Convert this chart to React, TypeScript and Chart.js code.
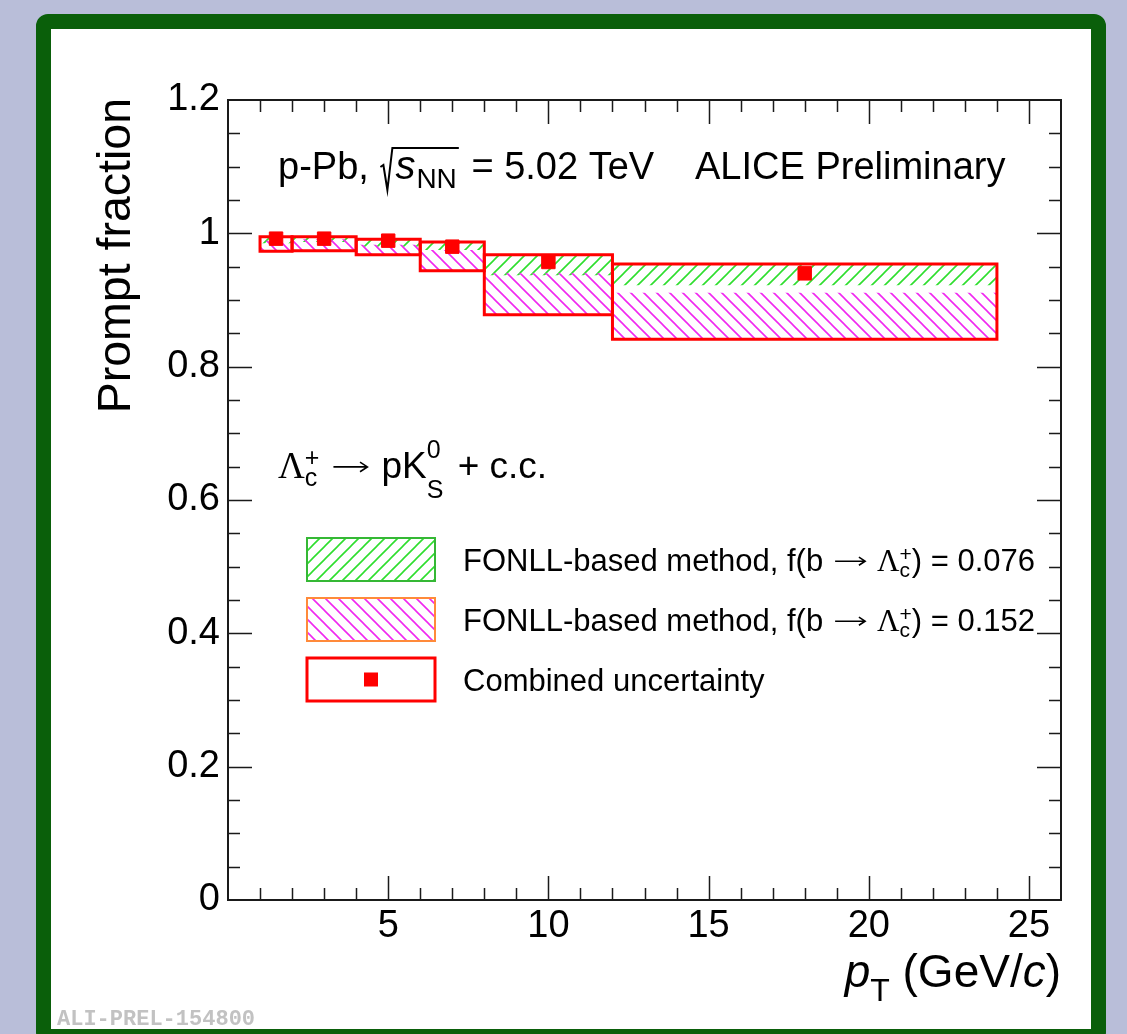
import React, { useEffect, useRef } from 'react';
import { Chart, registerables } from 'chart.js';
Chart.register(...registerables);

// ---------------- data ----------------
const binLow = [1, 2, 4, 6, 8, 12];
const binHigh = [2, 4, 6, 8, 12, 24];
const ptCenter = [1.5, 3, 5, 7, 10, 18];
const promptFraction = [0.992, 0.992, 0.989, 0.98, 0.957, 0.94];
const combinedLow = [0.973, 0.974, 0.968, 0.944, 0.878, 0.841];
const combinedHigh = [0.995, 0.995, 0.991, 0.987, 0.968, 0.954];
const fonll076Low = [0.985, 0.987, 0.98, 0.975, 0.937, 0.922];
const fonll076High = [0.995, 0.995, 0.991, 0.987, 0.968, 0.954];
const fonll152Low = [0.973, 0.974, 0.968, 0.944, 0.878, 0.841];
const fonll152High = [0.989, 0.991, 0.983, 0.975, 0.94, 0.911];

const xTickValues = [5, 10, 15, 20, 25];
const xTickLabels = ['5', '10', '15', '20', '25'];
const yTickValues = [0, 0.2, 0.4, 0.6, 0.8, 1.0, 1.2];
const yTickLabels = ['0', '0.2', '0.4', '0.6', '0.8', '1', '1.2'];
const X_MIN = 0;
const X_MAX = 26;
const Y_MIN = 0;
const Y_MAX = 1.2;
const X_MINOR_STEP = 1;
const Y_MINOR_STEP = 0.05;

const legendFractions = ['0.076', '0.152'];
const legendCombined = 'Combined uncertainty';
const systemLabel = 'p-Pb, ';
const energyLabel = ' = 5.02 TeV';
const experimentLabel = 'ALICE Preliminary';
const watermark = 'ALI-PREL-154800';

// ---------------- styles ----------------
const SANS = '"Liberation Sans", Arial, Helvetica, sans-serif';
const SERIF = '"Liberation Serif", "Times New Roman", serif';
const MONO = '"Liberation Mono", "Courier New", monospace';
const RED = '#ff0000';
const GREEN_HATCH = '#2ede2e';
const MAGENTA_HATCH = '#f028f0';

type Seg = {
  t?: string;
  size: number;
  dy?: number;
  italic?: boolean;
  serif?: boolean;
  gap?: number;
  arrow?: [number, number, number];
  sup?: string;
  sub?: string;
  supDy?: number;
  subDy?: number;
};

function fontOf(size: number, italic?: boolean, serif?: boolean) {
  return `${italic ? 'italic ' : ''}${size}px ${serif ? SERIF : SANS}`;
}

function segWidth(ctx: CanvasRenderingContext2D, s: Seg) {
  if (s.gap !== undefined) return s.gap;
  if (s.arrow) return s.arrow[0] + s.arrow[1] + s.arrow[2];
  if (s.sup !== undefined || s.sub !== undefined) {
    ctx.font = fontOf(s.size);
    return Math.max(ctx.measureText(s.sup || '').width, ctx.measureText(s.sub || '').width);
  }
  ctx.font = fontOf(s.size, s.italic, s.serif);
  return ctx.measureText(s.t || '').width;
}

function drawRich(ctx: CanvasRenderingContext2D, x: number, y: number, segs: Seg[]) {
  let cx = x;
  for (const s of segs) {
    const w = segWidth(ctx, s);
    if (s.gap !== undefined) {
      // spacing only
    } else if (s.arrow) {
      const [gl, len] = s.arrow;
      const ay = y - s.size * 0.3;
      const x0 = cx + gl;
      const x1 = x0 + len;
      const h = s.size * 0.2;
      ctx.save();
      ctx.strokeStyle = '#000';
      ctx.lineWidth = 1.6;
      ctx.beginPath();
      ctx.moveTo(x0, ay); ctx.lineTo(x1, ay);
      ctx.moveTo(x1 - h, ay - h * 0.65); ctx.lineTo(x1, ay); ctx.lineTo(x1 - h, ay + h * 0.65);
      ctx.stroke();
      ctx.restore();
    } else if (s.sup !== undefined || s.sub !== undefined) {
      ctx.font = fontOf(s.size);
      if (s.sup) ctx.fillText(s.sup, cx, y + (s.supDy ?? -s.size * 0.6));
      if (s.sub) ctx.fillText(s.sub, cx, y + (s.subDy ?? s.size * 0.35));
    } else {
      ctx.font = fontOf(s.size, s.italic, s.serif);
      ctx.fillText(s.t || '', cx, y + (s.dy || 0));
    }
    cx += w;
  }
  return cx - x;
}

function richWidth(ctx: CanvasRenderingContext2D, segs: Seg[]) {
  return segs.reduce((a, s) => a + segWidth(ctx, s), 0);
}

function makeHatch(color: string, dir: '/' | '\\', s: number, lw: number) {
  const c = document.createElement('canvas');
  c.width = s;
  c.height = s;
  const g = c.getContext('2d')!;
  g.strokeStyle = color;
  g.lineWidth = lw;
  g.beginPath();
  if (dir === '/') {
    g.moveTo(0, s); g.lineTo(s, 0);
    g.moveTo(-s / 2, s / 2); g.lineTo(s / 2, -s / 2);
    g.moveTo(s / 2, s * 1.5); g.lineTo(s * 1.5, s / 2);
  } else {
    g.moveTo(0, 0); g.lineTo(s, s);
    g.moveTo(s / 2, -s / 2); g.lineTo(s * 1.5, s / 2);
    g.moveTo(-s / 2, s / 2); g.lineTo(s / 2, s * 1.5);
  }
  g.stroke();
  return g.createPattern(c, 'repeat')!;
}

function boxPoints(i: number, lo: number, hi: number) {
  return [
    { x: binLow[i], y: lo },
    { x: binLow[i], y: hi },
    { x: binHigh[i], y: hi },
    { x: binHigh[i], y: lo },
    { x: binLow[i], y: lo },
  ];
}

function lambdaC(size: number, scriptSize: number): Seg[] {
  return [
    { t: 'Λ', size, serif: true },
    { sup: '+', sub: 'c', size: scriptSize, supDy: -size * 0.32, subDy: size * 0.22 },
  ];
}

export default function App() {
  const ref = useRef<HTMLCanvasElement>(null);

  useEffect(() => {
    const canvas = ref.current!;
    const greenHatch = makeHatch(GREEN_HATCH, '/', 13, 1.6);
    const magentaHatch = makeHatch(MAGENTA_HATCH, '\\', 13, 1.6);

    const datasets: any[] = [];
    datasets.push({
      label: legendCombined,
      data: ptCenter.map((x, i) => ({ x, y: promptFraction[i] })),
      showLine: false,
      pointStyle: 'rect',
      pointRadius: 9.5,
      pointBackgroundColor: RED,
      pointBorderColor: RED,
      pointBorderWidth: 1,
      order: 0,
    });
    binLow.forEach((_, i) => {
      datasets.push({
        data: boxPoints(i, combinedLow[i], combinedHigh[i]),
        borderColor: RED,
        borderWidth: 3,
        borderCapStyle: 'square',
        borderJoinStyle: 'miter',
        fill: false,
        pointRadius: 0,
        order: 1,
      });
      datasets.push({
        data: boxPoints(i, fonll152Low[i], fonll152High[i]),
        borderColor: 'rgba(0,0,0,0)',
        borderWidth: 1,
        backgroundColor: magentaHatch,
        fill: 'shape',
        pointRadius: 0,
        order: 2,
      });
      datasets.push({
        data: boxPoints(i, fonll076Low[i], fonll076High[i]),
        borderColor: 'rgba(0,0,0,0)',
        borderWidth: 1,
        backgroundColor: greenHatch,
        fill: 'shape',
        pointRadius: 0,
        order: 3,
      });
    });

    const decor = {
      id: 'decor',
      afterDraw(chart: any) {
        const ctx: CanvasRenderingContext2D = chart.ctx;
        const { left, right, top, bottom } = chart.chartArea;
        const xs = chart.scales.x;
        const ys = chart.scales.y;
        ctx.save();
        // ticks
        ctx.strokeStyle = '#1a1a1a';
        ctx.lineWidth = 1.5;
        ctx.beginPath();
        for (let v = X_MIN + X_MINOR_STEP; v < X_MAX; v += X_MINOR_STEP) {
          const major = xTickValues.some((t) => Math.abs(t - v) < 1e-6);
          const len = major ? 24 : 12;
          const px = Math.round(xs.getPixelForValue(v)) + 0.5;
          ctx.moveTo(px, bottom); ctx.lineTo(px, bottom - len);
          ctx.moveTo(px, top); ctx.lineTo(px, top + len);
        }
        for (let k = 1; Y_MIN + k * Y_MINOR_STEP < Y_MAX - 1e-6; k++) {
          const v = Y_MIN + k * Y_MINOR_STEP;
          const major = yTickValues.some((t) => Math.abs(t - v) < 1e-6);
          const len = major ? 24 : 12;
          const py = Math.round(ys.getPixelForValue(v)) + 0.5;
          ctx.moveTo(left, py); ctx.lineTo(left + len, py);
          ctx.moveTo(right, py); ctx.lineTo(right - len, py);
        }
        ctx.stroke();
        // frame
        ctx.lineWidth = 2;
        ctx.strokeRect(left, top, right - left, bottom - top);

        ctx.fillStyle = '#000';
        ctx.textAlign = 'left';
        ctx.textBaseline = 'alphabetic';

        // title line
        const ty = 179;
        let tx = 278;
        tx += drawRich(ctx, tx, ty, [{ t: systemLabel, size: 38 }]);
        // sqrt sign
        const sW = richWidth(ctx, [{ t: 's', size: 40, italic: true }, { gap: 1 }, { t: 'NN', size: 28 }]);
        ctx.strokeStyle = '#000';
        ctx.lineWidth = 2;
        ctx.beginPath();
        ctx.moveTo(tx + 1, ty - 12);
        ctx.lineTo(tx + 4, ty - 14);
        ctx.lineTo(tx + 8, ty + 11);
        ctx.lineTo(tx + 13, ty - 31);
        ctx.lineTo(tx + 18 + sW, ty - 31);
        ctx.stroke();
        tx += 16;
        tx += drawRich(ctx, tx, ty, [
          { t: 's', size: 40, italic: true },
          { gap: 1 },
          { t: 'NN', size: 28, dy: 9 },
          { gap: 4 },
          { t: energyLabel, size: 38 },
        ]);
        drawRich(ctx, 695, ty, [{ t: experimentLabel, size: 38 }]);

        // decay channel
        drawRich(ctx, 278, 478, [
          ...lambdaC(37, 25),
          { arrow: [14, 34, 14], size: 37 },
          { t: 'pK', size: 37 },
          { sup: '0', sub: 'S', size: 25, supDy: -20, subDy: 20 },
          { gap: 4 },
          { t: ' + c.c.', size: 37 },
        ]);

        // legend
        const lx0 = 307, lx1 = 435, lh = 43;
        const rows = [538, 598, 658];
        ctx.fillStyle = greenHatch;
        ctx.fillRect(lx0, rows[0], lx1 - lx0, lh);
        ctx.strokeStyle = '#35b835';
        ctx.lineWidth = 2;
        ctx.strokeRect(lx0, rows[0], lx1 - lx0, lh);
        ctx.fillStyle = magentaHatch;
        ctx.fillRect(lx0, rows[1], lx1 - lx0, lh);
        ctx.strokeStyle = '#ff8a3a';
        ctx.strokeRect(lx0, rows[1], lx1 - lx0, lh);
        ctx.fillStyle = '#fff';
        ctx.fillRect(lx0, rows[2], lx1 - lx0, lh);
        ctx.strokeStyle = RED;
        ctx.lineWidth = 3;
        ctx.strokeRect(lx0, rows[2], lx1 - lx0, lh);
        ctx.fillStyle = RED;
        ctx.fillRect((lx0 + lx1) / 2 - 7, rows[2] + lh / 2 - 7, 14, 14);

        ctx.fillStyle = '#000';
        legendFractions.forEach((f, i) => {
          drawRich(ctx, 463, rows[i] + lh / 2 + 11, [
            { t: 'FONLL-based method, f(b', size: 31 },
            { arrow: [12, 30, 12], size: 31 },
            ...lambdaC(31, 21),
            { t: ') = ' + f, size: 31 },
          ]);
        });
        drawRich(ctx, 463, rows[2] + lh / 2 + 11, [{ t: legendCombined, size: 31 }]);

        // axis titles
        const xt: Seg[] = [
          { t: 'p', size: 46, italic: true },
          { t: 'T', size: 32, dy: 14 },
          { t: ' (GeV/', size: 46 },
          { t: 'c', size: 46, italic: true },
          { t: ')', size: 46 },
        ];
        const xw = richWidth(ctx, xt);
        drawRich(ctx, right - xw, 987, xt);

        ctx.save();
        ctx.translate(130, top - 2);
        ctx.rotate(-Math.PI / 2);
        ctx.textAlign = 'right';
        ctx.font = fontOf(46.5);
        ctx.fillText('Prompt fraction', 0, 0);
        ctx.restore();

        // watermark
        ctx.fillStyle = '#c2c2c2';
        ctx.font = `bold 22px ${MONO}`;
        ctx.textAlign = 'left';
        ctx.fillText(watermark, 57, 1025);
        ctx.restore();
      },
    };

    const chart = new Chart(canvas, {
      type: 'line',
      data: { datasets },
      options: {
        animation: false,
        responsive: false,
        devicePixelRatio: 1,
        layout: { padding: { left: 0, right: 66, top: 100, bottom: 0 } },
        plugins: {
          legend: { display: false },
          title: { display: false },
          tooltip: { enabled: false },
        },
        elements: { line: { tension: 0 } },
        scales: {
          x: {
            type: 'linear',
            min: X_MIN,
            max: X_MAX,
            grid: { display: false, drawTicks: false },
            border: { display: false },
            afterBuildTicks: (s: any) => {
              s.ticks = xTickValues.map((value) => ({ value }));
            },
            afterFit: (s: any) => {
              s.height = 134;
            },
            ticks: {
              autoSkip: false,
              maxRotation: 0,
              padding: 4,
              color: '#000',
              font: { family: SANS, size: 38 },
              callback: (_v: any, i: number) => xTickLabels[i],
            },
          },
          y: {
            type: 'linear',
            min: Y_MIN,
            max: Y_MAX,
            grid: { display: false, drawTicks: false },
            border: { display: false },
            afterBuildTicks: (s: any) => {
              s.ticks = yTickValues.map((value) => ({ value }));
            },
            afterFit: (s: any) => {
              s.width = 228;
            },
            ticks: {
              padding: 8,
              color: '#000',
              font: { family: SANS, size: 38 },
              callback: (_v: any, i: number) => yTickLabels[i],
            },
          },
        },
      } as any,
      plugins: [decor],
    });
    return () => chart.destroy();
  }, []);

  return (
    <div style={{ position: 'fixed', left: 0, top: 0, width: 1127, height: 1034, background: '#b9bed9', overflow: 'hidden' }}>
      <div
        style={{
          position: 'absolute',
          left: 36,
          top: 14,
          width: 1070,
          height: 1030,
          boxSizing: 'border-box',
          border: '15px solid #0a5f0a',
          borderRadius: 12,
          background: '#fff',
        }}
      />
      <canvas ref={ref} width={1127} height={1034} style={{ position: 'absolute', left: 0, top: 0, display: 'block' }} />
    </div>
  );
}
